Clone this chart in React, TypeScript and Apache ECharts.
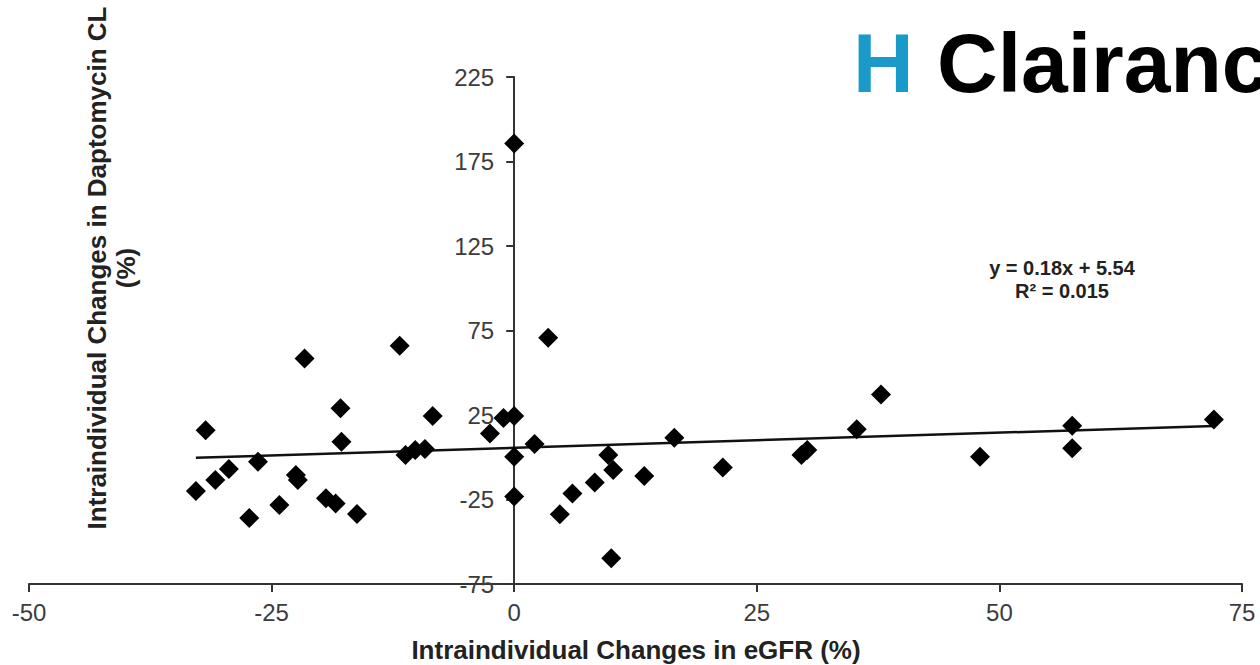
import React, { useEffect, useRef } from "react";
import * as echarts from "echarts";

// Intraindividual changes in eGFR (%)
const eGFRChange = [
  -31.8, -32.8, -30.8, -29.4, -26.4, -27.3, -24.2, -21.6, -22.5, -22.3,
  -19.4, -18.4, -17.9, -17.8, -16.2, -11.8, -11.2, -10.2, -9.2, -8.4,
  -2.5, -1.1, 0, 0, 0, 2.1, 0, 3.5, 9.7, 10.2,
  13.4, 8.3, 6.0, 4.7, 10.0, 16.5, 21.5, 29.6, 30.2, 35.3,
  37.8, 48.0, 57.5, 57.5, 72.1,
];
// Intraindividual changes in daptomycin CL (%)
const clChange = [
  16, -20, -13.5, -7, -2.6, -36, -28.3, 58.5, -10.5, -13.5,
  -24.3, -27.3, 29, 9.2, -33.6, 66, 1.3, 4.3, 4.9, 24.4,
  14.1, 23.2, 24.4, 0.3, -23.2, 7.9, 185.7, 70.7, 1.3, -7.5,
  -11.1, -15, -21.4, -33.8, -59.8, 11.6, -6, 1.3, 4.3, 16.5,
  37.2, 0.3, 18.7, 5.3, 22.4,
];
// Regression: y = slope * x + intercept
const slope = [0.18];
const intercept = [5.54];
const equationLines = ["y = 0.18x + 5.54", "R\u00B2 = 0.015"];
const xTicks = { min: -50, max: 75, interval: 25 };
const yTicks = { min: -75, max: 225, interval: 50 };

const xTitle = "Intraindividual Changes in eGFR (%)";
const yTitle = "Intraindividual Changes in Daptomycin CL\n(%)";

const FONT = "'Liberation Sans', Arial, Helvetica, sans-serif";

const WIDTH = 1260;
const GRID = { left: 29, right: 18, top: 77, bottom: 81 };

export default function App() {
  const ref = useRef<HTMLDivElement>(null);

  useEffect(() => {
    if (!ref.current) return;
    const chart = echarts.init(ref.current, undefined, { renderer: "svg" });
    const points = eGFRChange.map((x, i) => [x, clChange[i]]);
    const xMin = Math.min(...eGFRChange);
    const xMax = Math.max(...eGFRChange);
    const fit = (x: number) => slope[0] * x + intercept[0];

    // place the y axis where x = 0 (axis crossing)
    const plotWidth = WIDTH - GRID.left - GRID.right;
    const yAxisOffset = -plotWidth * (0 - xTicks.min) / (xTicks.max - xTicks.min);

    const axisColor = "#333";
    const labelColor = "#3c3c3c";

    const option: any = {
      animation: false,
      backgroundColor: "#ffffff",
      grid: { ...GRID, outerBoundsMode: "none" },
      xAxis: {
        type: "value",
        min: xTicks.min,
        max: xTicks.max,
        interval: xTicks.interval,
        axisLine: { onZero: false, lineStyle: { color: axisColor, width: 2 } },
        axisTick: { length: 8, lineStyle: { color: axisColor, width: 2 } },
        axisLabel: { margin: 16, fontSize: 24, color: labelColor, fontFamily: FONT },
        splitLine: { show: false },
      },
      yAxis: {
        type: "value",
        position: "left",
        offset: yAxisOffset,
        min: yTicks.min,
        max: yTicks.max,
        interval: yTicks.interval,
        axisLine: { onZero: false, lineStyle: { color: axisColor, width: 2 } },
        axisTick: { length: 8, lineStyle: { color: axisColor, width: 2 } },
        axisLabel: { margin: 20, fontSize: 24, color: labelColor, fontFamily: FONT },
        splitLine: { show: false },
      },
      series: [
        {
          type: "line",
          data: [
            [xMin, fit(xMin)],
            [xMax, fit(xMax)],
          ],
          showSymbol: false,
          symbol: "none",
          lineStyle: { color: "#111", width: 2.5 },
          z: 1,
          silent: true,
        },
        {
          type: "scatter",
          data: points,
          symbol: "diamond",
          symbolSize: 20,
          itemStyle: { color: "#000", opacity: 1 },
          z: 2,
        },
      ],
      graphic: [
        {
          type: "text",
          x: 853,
          y: 63,
          style: {
            text: "{h|H} {c|Clairance}",
            fontFamily: FONT,
            fontWeight: "bold",
            fontSize: 84,
            verticalAlign: "middle",
            rich: {
              h: { fill: "#1a9ac8", fontSize: 84, fontWeight: "bold", fontFamily: FONT },
              c: { fill: "#000", fontSize: 84, fontWeight: "bold", fontFamily: FONT },
            },
          },
        },
        {
          type: "text",
          x: 1062,
          y: 279,
          style: {
            text: equationLines.join("\n"),
            fontFamily: FONT,
            fontWeight: "bold",
            fontSize: 20,
            lineHeight: 23,
            fill: "#222",
            align: "center",
            verticalAlign: "middle",
          },
        },
        {
          type: "text",
          x: 636,
          y: 650,
          style: {
            text: xTitle,
            fontFamily: FONT,
            fontWeight: "bold",
            fontSize: 26,
            fill: "#222",
            align: "center",
            verticalAlign: "middle",
          },
        },
        {
          type: "text",
          x: 111,
          y: 268,
          rotation: Math.PI / 2,
          style: {
            text: yTitle,
            fontFamily: FONT,
            fontWeight: "bold",
            fontSize: 26,
            lineHeight: 29,
            fill: "#222",
            align: "center",
            verticalAlign: "middle",
          },
        },
      ],
    };
    chart.setOption(option);
    return () => chart.dispose();
  }, []);

  return (
    <div
      ref={ref}
      style={{ position: "fixed", left: 0, top: 0, width: WIDTH, height: 665, background: "#fff" }}
    />
  );
}
